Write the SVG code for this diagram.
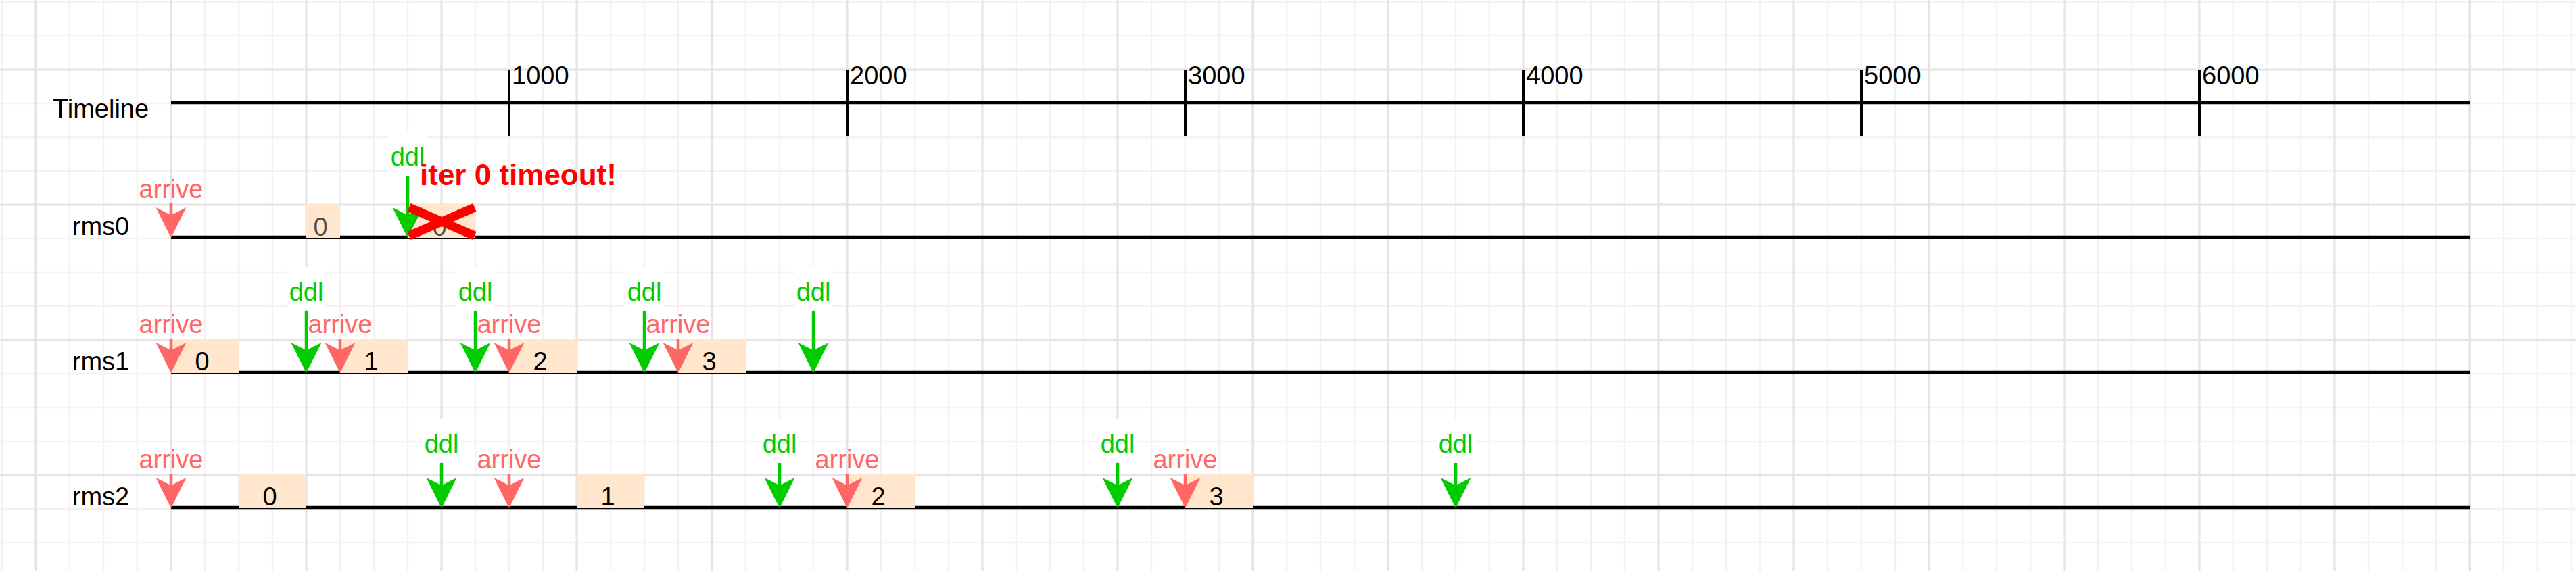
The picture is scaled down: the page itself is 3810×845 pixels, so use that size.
<svg xmlns="http://www.w3.org/2000/svg" width="3810" height="845" viewBox="0 0 3810 845">
<style>
text{font-family:"Liberation Sans",Arial,Helvetica,sans-serif}
.lbl{font-size:38px;fill:#000;text-anchor:middle}
.tl{font-size:38px;fill:#000}
.axis{stroke:#000;stroke-width:4.5;fill:none}
.tk{stroke:#000;stroke-width:4;fill:none}
.box{fill:#FFE6CC}
.bt{font-size:38px;fill:#000;text-anchor:middle}
.bt0{fill:#4D4D4D}
.at{font-size:38px;fill:#FF6666;text-anchor:middle}
.dt{font-size:38px;fill:#00CC00;text-anchor:middle}
.dbg{fill:#FFFFFF}
.ca{stroke:#FF6666;stroke-width:4.5;fill:none;marker-end:url(#mR)}
.cd{stroke:#00CC00;stroke-width:4.5;fill:none;marker-end:url(#mG)}
.warn{font-size:44px;font-weight:bold;fill:#FF0000}
.xm{stroke:#FF0000;stroke-width:13;fill:none}
</style>
<defs>
<pattern id="gMinor" patternUnits="userSpaceOnUse" x="-22" y="-22" width="50" height="50"><path d="M25 0V50M0 25H50" stroke="#f2f2f2" stroke-width="2.5" fill="none"/></pattern>
<pattern id="gMajor" patternUnits="userSpaceOnUse" x="-47" y="3" width="200" height="200"><path d="M100 0V200M0 100H200" stroke="#e4e4e4" stroke-width="3" fill="none"/></pattern>
<marker id="mR" viewBox="0 0 45 45" refX="14.25" refY="22.5" markerWidth="45" markerHeight="45" markerUnits="userSpaceOnUse" orient="auto"><path d="M45 22.5L0 0L11.25 22.5L0 45Z" fill="#FF6666"/></marker>
<marker id="mG" viewBox="0 0 45 45" refX="14.25" refY="22.5" markerWidth="45" markerHeight="45" markerUnits="userSpaceOnUse" orient="auto"><path d="M45 22.5L0 0L11.25 22.5L0 45Z" fill="#00CC00"/></marker>
</defs>
<g id="background">
<rect x="0" y="0" width="3810" height="845" fill="#FFFFFF"/>
<rect x="0" y="0" width="3810" height="845" fill="url(#gMinor)"/>
<rect x="0" y="0" width="3810" height="845" fill="url(#gMajor)"/>
</g>
<g id="timeline">
<text class="lbl" x="149" y="174">Timeline</text>
<line class="axis" x1="253" y1="152" x2="3653" y2="152" stroke-width="5"/>
<line class="tk" x1="753" y1="103" x2="753" y2="202"/>
<line class="tk" x1="1253" y1="103" x2="1253" y2="202"/>
<line class="tk" x1="1753" y1="103" x2="1753" y2="202"/>
<line class="tk" x1="2253" y1="103" x2="2253" y2="202"/>
<line class="tk" x1="2753" y1="103" x2="2753" y2="202"/>
<line class="tk" x1="3253" y1="103" x2="3253" y2="202"/>
<text class="tl" x="757" y="125">1000</text>
<text class="tl" x="1257" y="125">2000</text>
<text class="tl" x="1757" y="125">3000</text>
<text class="tl" x="2257" y="125">4000</text>
<text class="tl" x="2757" y="125">5000</text>
<text class="tl" x="3257" y="125">6000</text>
</g>
<g id="lane-labels">
<text class="lbl" x="149" y="348">rms0</text>
<text class="lbl" x="149" y="548">rms1</text>
<text class="lbl" x="149" y="748">rms2</text>
</g>
<g id="lanes">
<line class="axis" x1="253" y1="351" x2="3653" y2="351"/>
<line class="axis" x1="253" y1="551" x2="3653" y2="551"/>
<line class="axis" x1="253" y1="751" x2="3653" y2="751"/>
</g>
<g id="rms0-iter0"><rect class="box" x="453" y="302" width="50" height="50"/><text class="bt bt0" x="474" y="349">0</text></g>
<g id="rms0-iter0-retry"><rect class="box" x="603" y="302" width="100" height="50"/><text class="bt bt0" x="650" y="349">0</text></g>
<g id="rms1-iter0"><rect class="box" x="253" y="502" width="100" height="50"/><text class="bt" x="299" y="548">0</text></g>
<g id="rms1-iter1"><rect class="box" x="503" y="502" width="100" height="50"/><text class="bt" x="549" y="548">1</text></g>
<g id="rms1-iter2"><rect class="box" x="753" y="502" width="100" height="50"/><text class="bt" x="799" y="548">2</text></g>
<g id="rms1-iter3"><rect class="box" x="1003" y="502" width="100" height="50"/><text class="bt" x="1049" y="548">3</text></g>
<g id="rms2-iter0"><rect class="box" x="353" y="702" width="100" height="50"/><text class="bt" x="399" y="748">0</text></g>
<g id="rms2-iter1"><rect class="box" x="853" y="702" width="100" height="50"/><text class="bt" x="899" y="748">1</text></g>
<g id="rms2-iter2"><rect class="box" x="1253" y="702" width="100" height="50"/><text class="bt" x="1299" y="748">2</text></g>
<g id="rms2-iter3"><rect class="box" x="1753" y="702" width="100" height="50"/><text class="bt" x="1799" y="748">3</text></g>
<g id="labels">
<text class="at" x="253" y="293">arrive</text>
<rect class="dbg" x="575.5" y="195" width="55" height="63"/><text class="dt" x="603" y="245">ddl</text>
<text class="at" x="253" y="493">arrive</text>
<text class="at" x="503" y="493">arrive</text>
<text class="at" x="753" y="493">arrive</text>
<text class="at" x="1003" y="493">arrive</text>
<rect class="dbg" x="425.5" y="395" width="55" height="63"/><text class="dt" x="453" y="445">ddl</text>
<rect class="dbg" x="675.5" y="395" width="55" height="63"/><text class="dt" x="703" y="445">ddl</text>
<rect class="dbg" x="925.5" y="395" width="55" height="63"/><text class="dt" x="953" y="445">ddl</text>
<rect class="dbg" x="1175.5" y="395" width="55" height="63"/><text class="dt" x="1203" y="445">ddl</text>
<text class="at" x="253" y="693">arrive</text>
<text class="at" x="753" y="693">arrive</text>
<text class="at" x="1253" y="693">arrive</text>
<text class="at" x="1753" y="693">arrive</text>
<rect class="dbg" x="625.5" y="620" width="55" height="63"/><text class="dt" x="653" y="670">ddl</text>
<rect class="dbg" x="1125.5" y="620" width="55" height="63"/><text class="dt" x="1153" y="670">ddl</text>
<rect class="dbg" x="1625.5" y="620" width="55" height="63"/><text class="dt" x="1653" y="670">ddl</text>
<rect class="dbg" x="2125.5" y="620" width="55" height="63"/><text class="dt" x="2153" y="670">ddl</text>
</g>
<g id="connectors">
<line class="ca" x1="253" y1="301" x2="253" y2="321.25"/>
<line class="cd" x1="603" y1="260" x2="603" y2="321.25"/>
<line class="ca" x1="253" y1="501" x2="253" y2="521.25"/>
<line class="ca" x1="503" y1="501" x2="503" y2="521.25"/>
<line class="ca" x1="753" y1="501" x2="753" y2="521.25"/>
<line class="ca" x1="1003" y1="501" x2="1003" y2="521.25"/>
<line class="cd" x1="453" y1="460" x2="453" y2="521.25"/>
<line class="cd" x1="703" y1="460" x2="703" y2="521.25"/>
<line class="cd" x1="953" y1="460" x2="953" y2="521.25"/>
<line class="cd" x1="1203" y1="460" x2="1203" y2="521.25"/>
<line class="ca" x1="253" y1="701" x2="253" y2="721.25"/>
<line class="ca" x1="753" y1="701" x2="753" y2="721.25"/>
<line class="ca" x1="1253" y1="701" x2="1253" y2="721.25"/>
<line class="ca" x1="1753" y1="701" x2="1753" y2="721.25"/>
<line class="cd" x1="653" y1="685" x2="653" y2="721.25"/>
<line class="cd" x1="1153" y1="685" x2="1153" y2="721.25"/>
<line class="cd" x1="1653" y1="685" x2="1653" y2="721.25"/>
<line class="cd" x1="2153" y1="685" x2="2153" y2="721.25"/>
</g>
<g id="timeout-note">
<text class="warn" x="621" y="274">iter 0 timeout!</text>
</g>
<g id="timeout-cross">
<line class="xm" x1="605" y1="307" x2="702" y2="349"/>
<line class="xm" x1="605" y1="349" x2="702" y2="307"/>
</g>
</svg>
